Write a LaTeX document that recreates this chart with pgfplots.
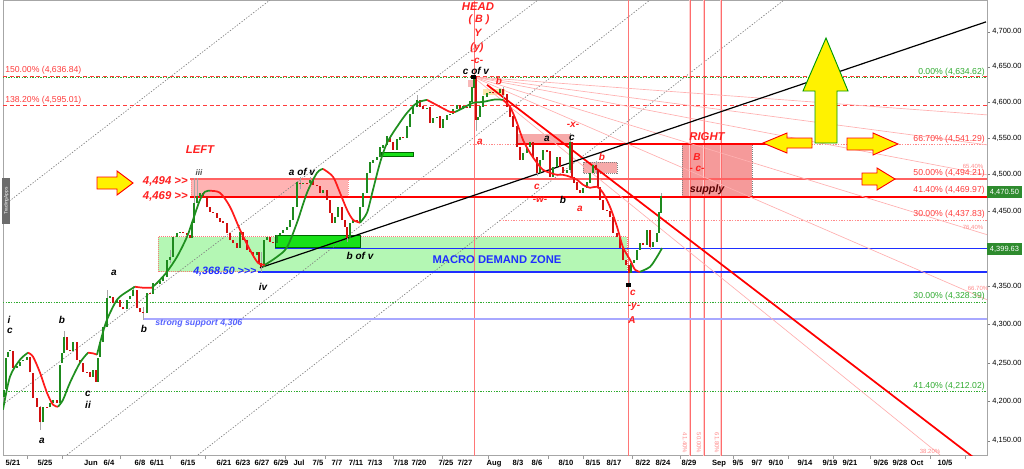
\documentclass[border=0pt]{standalone}
\usepackage{fontspec}
\setmainfont{Liberation Sans}
\usepackage{pgfplots}
\usepackage{pgfplotstable}
\pgfplotsset{compat=1.18}
\definecolor{cgreen}{HTML}{1E8A1E}
\definecolor{cred}{HTML}{D01010}
\definecolor{magreen}{HTML}{1F8F1F}
\definecolor{mared}{HTML}{FF1A1A}
\definecolor{fibred}{HTML}{FF3B3B}
\definecolor{fibgreen}{HTML}{2FAA2F}
\definecolor{zonegreen}{HTML}{B4F7B4}
\definecolor{pinkbox}{HTML}{FFB3B3}
\definecolor{supplybox}{HTML}{F59A9A}
\definecolor{bluel}{HTML}{1E2EFF}
\definecolor{lightblue}{HTML}{A8A8FF}
\definecolor{fanpink}{HTML}{FFB0B0}
\definecolor{labred}{HTML}{FF2020}
\definecolor{boxgreen}{HTML}{2E8B2E}
\definecolor{brightgreen}{HTML}{18E018}
\newcommand{\fs}[1]{\fontsize{#1}{#1}\selectfont}
\tikzset{
  wave/.style={font=\fs{7.5}\bfseries\itshape, inner sep=0pt},
  rwave/.style={wave, text=labred},
  fibr/.style={font=\fs{6.5}, text=fibred, inner sep=0pt},
  fibg/.style={font=\fs{6.5}, text=fibgreen, inner sep=0pt},
  tinyp/.style={font=\fs{4.5}, text=fibred!60, inner sep=0pt},
}
\pgfplotstableread{
x o c
4 4205 4215
6 4215 4257
8 4257 4264
10 4264 4266
13 4266 4243
17 4243 4245
20 4245 4251
23 4251 4253
27 4253 4257
30 4257 4237
33 4237 4204
37 4204 4193
40 4193 4173
43 4173 4193
47 4193 4192
50 4192 4198
53 4198 4202
57 4202 4198
60 4198 4249
62 4249 4262
64 4262 4283
67 4283 4266
70 4266 4264
73 4264 4277
77 4277 4253
80 4253 4249
83 4249 4238
87 4238 4237
90 4237 4231
93 4231 4240
96 4240 4225
98 4225 4257
100 4257 4277
103 4277 4296
107 4296 4334
110 4334 4336
113 4336 4328
117 4328 4332
120 4332 4322
123 4322 4319
127 4319 4332
130 4332 4336
133 4336 4345
137 4345 4321
140 4321 4315
143 4315 4314
147 4314 4341
150 4341 4339
153 4339 4354
157 4354 4352
160 4352 4356
163 4356 4362
167 4362 4385
170 4385 4389
173 4389 4415
177 4415 4421
180 4421 4422
183 4422 4421
187 4421 4418
190 4418 4414
192 4414 4434
194 4434 4461
197 4461 4470
200 4470 4475
203 4475 4470
207 4470 4455
210 4455 4449
213 4449 4448
217 4448 4441
220 4441 4436
223 4436 4434
227 4434 4421
230 4421 4411
233 4411 4407
237 4407 4401
240 4401 4422
243 4422 4411
247 4411 4398
250 4398 4395
253 4395 4391
257 4391 4395
259 4395 4381
261 4381 4375
264 4375 4411
267 4411 4415
270 4415 4409
273 4409 4407
277 4407 4418
280 4418 4421
283 4421 4425
287 4425 4429
290 4429 4438
293 4438 4456
297 4456 4489
300 4489 4487
303 4487 4489
307 4489 4488
310 4488 4493
313 4493 4486
317 4486 4484
320 4484 4475
323 4475 4479
327 4479 4465
330 4465 4448
332 4448 4434
335 4434 4442
338 4442 4455
342 4455 4438
345 4438 4429
347 4429 4414
350 4414 4434
353 4434 4438
357 4438 4436
360 4436 4456
363 4456 4475
367 4475 4502
370 4502 4516
373 4516 4520
377 4520 4524
380 4524 4537
383 4537 4541
387 4541 4552
390 4552 4545
393 4545 4534
397 4534 4548
400 4548 4552
403 4552 4550
407 4550 4566
410 4566 4583
413 4583 4594
417 4594 4603
420 4603 4594
423 4594 4590
427 4590 4592
430 4592 4571
433 4571 4578
437 4578 4580
440 4580 4564
443 4564 4576
447 4576 4582
450 4582 4584
453 4584 4590
457 4590 4596
460 4596 4590
463 4590 4594
467 4594 4592
470 4592 4601
472 4601 4620
474 4620 4634
476 4634 4576
478 4576 4580
480 4580 4594
483 4594 4608
487 4608 4613
490 4613 4615
493 4615 4614
497 4614 4613
500 4613 4618
503 4618 4611
507 4611 4594
510 4594 4580
513 4580 4566
517 4566 4538
520 4538 4520
523 4520 4530
527 4530 4538
530 4538 4544
533 4544 4524
537 4524 4502
540 4502 4520
543 4520 4534
547 4534 4531
550 4531 4497
553 4497 4510
557 4510 4524
560 4524 4510
563 4510 4502
567 4502 4506
570 4506 4544
572 4544 4497
574 4497 4489
577 4489 4479
580 4479 4475
583 4475 4482
587 4482 4489
590 4489 4502
593 4502 4513
596 4513 4506
598 4506 4483
600 4483 4465
603 4465 4452
607 4452 4450
610 4450 4442
613 4442 4421
617 4421 4415
620 4415 4401
623 4401 4384
626 4384 4378
629 4378 4367
631 4367 4381
634 4381 4385
637 4385 4398
640 4398 4407
643 4407 4405
647 4405 4425
650 4425 4402
653 4402 4409
657 4409 4421
659 4421 4448
661 4448 4470.5
}\candles
\pgfplotstableread{
x lo hi
40 4163 4195
64 4262 4292
107 4296 4346
133 4336 4350
143 4305 4322
170 4380 4398
194 4434 4494
197 4461 4494
261 4369 4395
300 4480 4496
310 4486 4497
347 4408 4429
417 4594 4610
474 4620 4638
476 4560 4634
503 4605 4621
537 4498 4524
570 4502 4556
596 4500 4518
629 4352 4378
650 4398 4425
661 4448 4474
}\wicks
\begin{document}
\begin{tikzpicture}
\useasboundingbox (-2.25pt,-9.75pt) rectangle (765.75pt,341.25pt);
\begin{axis}[
  at={(0pt,0pt)}, anchor=south west,
  width=738pt, height=341.25pt, scale only axis,
  xmin=3, xmax=987,
  y coord trafo/.code={\pgfmathparse{4400*ln(#1/4400)+4400}},
  y coord inv trafo/.code={\pgfmathparse{4400*exp((#1-4400)/4400)}},
  ymin=4131.9, ymax=4745.6,
  axis line style={draw=gray!70, line width=0.5pt},
  ytick pos=right, yticklabel pos=right,
  ytick={4150,4200,4250,4300,4350,4450,4500,4550,4600,4650,4700},
  yticklabels={{4,150.00},{4,200.00},{4,250.00},{4,300.00},{4,350.00},{4,450.00},{4,500.00},{4,550.00},{4,600.00},{4,650.00},{4,700.00}},
  tick align=outside, major tick length=2pt, minor tick length=3pt,
  y tick label style={font=\fs{5.6}, xshift=-1.5pt},
  xtick pos=bottom,
  xtick={13,45,91,109,140,157,188,224,243,262,281,299,318,337,356,375,401,419,446,465,494,518,537,566,593,614,643,663,689,719,738,757,776,805,830,850,881,900,917,945},
  xticklabels={5/21,5/25,Jun,6/4,6/8,6/11,6/15,6/21,6/23,6/27,6/29,Jul,7/5,7/7,7/11,7/13,7/18,7/20,7/25,7/27,Aug,8/3,8/6,8/10,8/15,8/17,8/22,8/24,8/29,Sep,9/5,9/7,9/10,9/14,9/19,9/21,9/26,9/28,Oct,10/5},
  x tick label style={font=\fs{5.7}\bfseries, yshift=1.5pt},
  major x tick style={draw=none},
  minor xtick={27,62,120,170,205,285,325,393,442,488,548,583,632,680,733,788,833,870,930,965},
  minor x tick style={draw=gray!80, line width=0.5pt},
  clip=true,
]
% zones
\addplot[fill=zonegreen, draw=fibred!70, densely dotted, line width=0.5pt] coordinates {(158,4368.7) (158,4415.4) (627,4415.4) (627,4368.7)} -- cycle;
\addplot[fill=pinkbox, draw=fibred!60, densely dotted, line width=0.5pt] coordinates {(191,4470) (191,4494) (348,4494) (348,4470)} -- cycle;
\addplot[fill=supplybox, draw=gray, densely dotted, line width=0.5pt] coordinates {(682,4469.5) (682,4541.8) (752,4541.8) (752,4469.5)} -- cycle;
\addplot[fill=supplybox!85, draw=none] coordinates {(518,4543.5) (518,4556.1) (570,4556.1) (570,4543.5)} -- cycle;
\addplot[fill=supplybox!85, draw=gray, densely dotted, line width=0.5pt] coordinates {(583,4502.3) (583,4517.4) (617,4517.4) (617,4502.3)} -- cycle;
\addplot[fill=supplybox!70, draw=none] coordinates {(468,4621.7) (468,4631.6) (475,4631.6) (475,4621.7)} -- cycle;
\addplot[fill=yellow!40!orange!30, draw=none] coordinates {(483,4610.5) (483,4619.0) (505,4619.0) (505,4610.5)} -- cycle;
\addplot[fill=brightgreen, draw=green!40!black, line width=0.4pt] coordinates {(275,4401.4) (275,4418.1) (360,4418.1) (360,4401.4)} -- cycle;
\addplot[fill=brightgreen, draw=green!40!black, line width=0.4pt] coordinates {(381,4525.6) (381,4531.1) (413,4531.1) (413,4525.6)} -- cycle;
% grey dotted channel lines
\addplot[gray, dash pattern=on 1pt off 1.2pt, line width=0.5pt] coordinates {(0,4453.8) (270,4745.6)};
\addplot[gray, dash pattern=on 1pt off 1.2pt, line width=0.5pt] coordinates {(0,4192.8) (538,4745.6)};
\addplot[gray, dash pattern=on 1pt off 1.2pt, line width=0.5pt] coordinates {(67,4131.9) (650,4745.6)};
\addplot[gray, dash pattern=on 1pt off 1.2pt, line width=0.5pt] coordinates {(198,4131.9) (784,4745.6)};
% vertical lines
\addplot[fibred!70, line width=0.7pt] coordinates {(474,4120) (474,4760)};
\addplot[fibred!70, line width=0.7pt] coordinates {(628,4120) (628,4760)};
\addplot[fibred!25, line width=1.6pt] coordinates {(690,4120) (690,4760)};
\addplot[fibred!25, line width=1.6pt] coordinates {(704,4120) (704,4760)};
\addplot[fibred!25, line width=1.6pt] coordinates {(721,4120) (721,4760)};
\addplot[fibred!75, line width=0.5pt] coordinates {(690,4120) (690,4760)};
\addplot[fibred!75, line width=0.5pt] coordinates {(704,4120) (704,4760)};
\addplot[fibred!75, line width=0.5pt] coordinates {(721,4120) (721,4760)};
% fib levels
\addplot[fibred, dash pattern=on 3pt off 2pt, line width=0.8pt] coordinates {(3,4636.84) (987,4636.84)};
\addplot[fibgreen, dash pattern=on 1pt off 1pt, line width=0.6pt] coordinates {(3,4634.62) (987,4634.62)};
\addplot[fibred, dash pattern=on 3pt off 2pt, line width=0.8pt] coordinates {(3,4595.01) (987,4595.01)};
\addplot[fibred!60, dash pattern=on 1pt off 1pt, line width=0.5pt] coordinates {(470,4541.29) (987,4541.29)};
\addplot[fibred!60, dash pattern=on 1pt off 1pt, line width=0.5pt] coordinates {(470,4494.21) (987,4494.21)};
\addplot[fibred!60, dash pattern=on 1pt off 1pt, line width=0.5pt] coordinates {(470,4469.97) (987,4469.97)};
\addplot[fibred!60, dash pattern=on 1pt off 1pt, line width=0.5pt] coordinates {(500,4437.83) (987,4437.83)};
\addplot[fibgreen, dash pattern=on 1pt off 1pt, line width=0.6pt] coordinates {(3,4328.39) (987,4328.39)};
\addplot[fibgreen, dash pattern=on 1pt off 1pt, line width=0.6pt] coordinates {(3,4212.02) (987,4212.02)};
% solid levels
\addplot[fibred!80, line width=1.1pt] coordinates {(190,4494) (987,4494)};
\addplot[red, line width=1.4pt] coordinates {(190,4469) (987,4469)};
\addplot[red, line width=1.8pt] coordinates {(518,4541.8) (768,4541.8)};
\addplot[bluel, line width=1.1pt] coordinates {(275,4399.63) (987,4399.63)};
\addplot[bluel, line width=1.5pt] coordinates {(258,4368.5) (987,4368.5)};
\addplot[lightblue, line width=1.1pt] coordinates {(143,4306) (987,4306)};
% fan lines
\addplot[fanpink, line width=0.5pt] coordinates {(473,4635.8) (987,4582.5)};
\addplot[fanpink, line width=0.5pt] coordinates {(473,4635.8) (987,4540.8)};
\addplot[fanpink, line width=0.5pt] coordinates {(473,4635.8) (987,4499.6)};
\addplot[fanpink, line width=0.5pt] coordinates {(473,4635.8) (987,4418.2)};
\addplot[fanpink, line width=0.5pt] coordinates {(473,4635.8) (987,4331.6)};
\addplot[fanpink, line width=0.5pt] coordinates {(473,4635.8) (940,4131.9)};
% trend lines
\addplot[red, line width=1.3pt] coordinates {(487,4624.6) (980,4122.4)};
\addplot[black, line width=0.9pt] coordinates {(260,4374.0) (986,4714.1)};
% wicks
\addplot[draw=none, forget plot,
  error bars/.cd, y dir=plus, y explicit, error mark=none,
  error bar style={draw=gray!70, line width=0.5pt, solid}]
  table[x=x, y=lo, y error expr=\thisrow{hi}-\thisrow{lo}] {\wicks};
% candles
\addplot[draw=none, forget plot, restrict expr to domain={\thisrow{c}-\thisrow{o}}{0:2000},
  error bars/.cd, y dir=plus, y explicit, error mark=none,
  error bar style={draw=cgreen, line width=1.5pt, solid}]
  table[x=x, y=o, y error expr=\thisrow{c}-\thisrow{o}] {\candles};
\addplot[draw=none, forget plot, restrict expr to domain={\thisrow{o}-\thisrow{c}}{0.001:2000},
  error bars/.cd, y dir=plus, y explicit, error mark=none,
  error bar style={draw=cred, line width=1.5pt, solid}]
  table[x=x, y=c, y error expr=\thisrow{o}-\thisrow{c}] {\candles};
% moving average (green rising, red falling)
\addplot[magreen, line width=1.3pt, smooth] coordinates {(3,4189) (10,4231.4) (20,4253.3) (28,4262.3)};
\addplot[mared, line width=1.3pt, smooth] coordinates {(28,4262.3) (33,4257.2) (40,4236.5) (47,4210.7) (53,4195.4) (58,4192.8)};
\addplot[magreen, line width=1.3pt, smooth] coordinates {(58,4192.8) (63,4201.7) (70,4223.6) (80,4249.4) (88,4262.3)};
\addplot[mared, line width=1.3pt, smooth] coordinates {(88,4262.3) (93,4261.5) (97,4259.8)};
\addplot[magreen, line width=1.3pt, smooth] coordinates {(97,4259.8) (102,4284.5) (107,4305.4) (117,4331.6) (127,4342.2) (135,4348.8)};
\addplot[mared, line width=1.3pt, smooth] coordinates {(135,4348.8) (143,4347.5) (152,4347.5)};
\addplot[magreen, line width=1.3pt, smooth] coordinates {(152,4347.5) (160,4358.1) (167,4368.7) (177,4388.6) (187,4415.4) (193,4438.4) (200,4465.4) (205,4476.4) (210,4477.7)};
\addplot[mared, line width=1.3pt, smooth] coordinates {(210,4477.7) (220,4475.0) (230,4455.9) (240,4424.9) (250,4397.9) (258,4380.7) (265,4378.0)};
\addplot[magreen, line width=1.3pt, smooth] coordinates {(265,4378.0) (277,4388.6) (287,4401.4) (297,4434.4) (307,4475.0) (317,4502.3) (323,4507.7)};
\addplot[mared, line width=1.3pt, smooth] coordinates {(323,4507.7) (333,4496.9) (340,4475.0) (347,4451.9) (353,4438.4) (360,4434.4)};
\addplot[magreen, line width=1.3pt, smooth] coordinates {(360,4434.4) (367,4447.9) (373,4479.1) (380,4516.0) (387,4543.5) (397,4565.8) (407,4585.3) (417,4599.2) (427,4603.4)};
\addplot[mared, line width=1.3pt, smooth] coordinates {(427,4603.4) (440,4593.7) (450,4586.7) (455,4586.5)};
\addplot[magreen, line width=1.3pt, smooth] coordinates {(455,4586.5) (463,4592) (473,4599.2) (483,4600.6) (495,4604) (503,4603.4)};
\addplot[mared, line width=1.3pt, smooth] coordinates {(503,4603.4) (510,4593.7) (517,4571.4) (523,4547.7) (530,4529.7) (537,4516.0) (543,4506.4) (550,4502.3) (557,4499.6) (563,4499.6) (570,4496.9) (577,4492.8) (583,4486.0) (590,4481.8) (597,4483.2) (603,4475.0) (610,4455.9) (617,4429.0) (623,4401.4) (630,4384.6) (635,4371.4) (640,4368.7)};
\addplot[magreen, line width=1.3pt, smooth] coordinates {(640,4368.7) (650,4375.4) (657,4388.6) (662,4400.1)};
% pivot markers
\addplot[only marks, mark=square*, mark size=1.4pt, black] coordinates {(473,4635.8) (628,4351.5)};
\end{axis}
\begin{axis}[
  at={(0pt,0pt)}, anchor=south west,
  width=738pt, height=341.25pt, scale only axis,
  xmin=3, xmax=987, ymin=0, ymax=455, y dir=reverse,
  hide axis, clip=false,
]
% arrows
\filldraw[fill=yellow, draw=red, line width=0.7pt] (axis cs:97,177) -- (axis cs:117,177) -- (axis cs:117,171) -- (axis cs:133,183) -- (axis cs:117,195) -- (axis cs:117,189) -- (axis cs:97,189) -- cycle;
\filldraw[fill=yellow, draw=green!60!black, line width=0.7pt] (axis cs:815,143) -- (axis cs:815,91) -- (axis cs:803,91) -- (axis cs:826,38) -- (axis cs:848,91) -- (axis cs:837,91) -- (axis cs:837,143) -- cycle;
\filldraw[fill=yellow, draw=red, line width=0.7pt] (axis cs:812,138) -- (axis cs:787,138) -- (axis cs:787,133) -- (axis cs:763,143) -- (axis cs:787,153) -- (axis cs:787,148) -- (axis cs:812,148) -- cycle;
\filldraw[fill=yellow, draw=red, line width=0.7pt] (axis cs:847,138) -- (axis cs:873,138) -- (axis cs:873,133) -- (axis cs:898,144) -- (axis cs:873,155) -- (axis cs:873,150) -- (axis cs:847,150) -- cycle;
\filldraw[fill=yellow, draw=red, line width=0.7pt] (axis cs:862,173) -- (axis cs:877,173) -- (axis cs:877,168) -- (axis cs:895,179) -- (axis cs:877,190) -- (axis cs:877,185) -- (axis cs:862,185) -- cycle;
% TradingApps tab
\node[fill=gray!85!black, minimum width=35pt, minimum height=6pt, inner sep=0pt, text=white, font=\fs{3.6}, rotate=90] at (axis cs:6.5,201) {TradingApps};
% black wave labels
\node[wave] at (axis cs:9,320) {i};
\node[wave] at (axis cs:10,331) {c};
\node[wave] at (axis cs:42,441) {a};
\node[wave] at (axis cs:62,320) {b};
\node[wave] at (axis cs:88,394) {c};
\node[wave] at (axis cs:88,405) {ii};
\node[wave] at (axis cs:114,273) {a};
\node[wave] at (axis cs:144,329) {b};
\node[wave, text=gray!60!black, font=\fs{6}\bfseries\itshape] at (axis cs:199,173) {iii};
\node[wave] at (axis cs:263,287) {iv};
\node[wave] at (axis cs:302,172) {a of v};
\node[wave] at (axis cs:360,256) {b of v};
\node[wave] at (axis cs:476,71) {c of v};
\node[wave] at (axis cs:547,139) {a};
\node[wave] at (axis cs:572,138) {c};
\node[wave] at (axis cs:563,200) {b};
% red labels
\node[rwave, font=\fs{8.5}\bfseries\itshape] at (axis cs:478,7) {HEAD};
\node[rwave, font=\fs{8}\bfseries\itshape] at (axis cs:479,20) {( B )};
\node[rwave, font=\fs{8}\bfseries\itshape] at (axis cs:478,33) {Y};
\node[rwave, font=\fs{8}\bfseries\itshape] at (axis cs:477,48) {(y)};
\node[rwave] at (axis cs:477,61) {-c-};
\node[rwave] at (axis cs:499,81) {b};
\node[rwave] at (axis cs:480,142) {a};
\node[rwave] at (axis cs:573,125) {-x-};
\node[rwave] at (axis cs:537,187) {c};
\node[rwave] at (axis cs:540,200) {-w-};
\node[rwave] at (axis cs:580,209) {a};
\node[rwave] at (axis cs:602,157) {b};
\node[rwave] at (axis cs:633,293) {c};
\node[rwave] at (axis cs:634,307) {-y-};
\node[rwave] at (axis cs:632,320) {A};
\node[rwave, font=\fs{8.5}\bfseries\itshape] at (axis cs:200,150) {LEFT};
\node[rwave, font=\fs{8.5}\bfseries\itshape] at (axis cs:707,137) {RIGHT};
\node[rwave] at (axis cs:697,157) {B};
\node[rwave] at (axis cs:697,169) {- c-};
\node[wave, text=black!65!red, font=\fs{8}\bfseries\itshape] at (axis cs:707,190) {supply};
\node[rwave, font=\fs{8.5}\bfseries\itshape, anchor=east] at (axis cs:188,181) {4,494 >{}>};
\node[rwave, font=\fs{8.5}\bfseries\itshape, anchor=east] at (axis cs:188,196) {4,469 >{}>};
\node[wave, text=bluel, font=\fs{8}\bfseries\itshape, anchor=west] at (axis cs:193,272) {4,368.50 >{}>{}>};
\node[wave, text=bluel!75, font=\fs{6.6}\bfseries\itshape, anchor=west] at (axis cs:155,323) {strong support 4,306};
\node[text=bluel, font=\fs{8.4}\bfseries, inner sep=0pt] at (axis cs:497,260) {MACRO DEMAND ZONE};
% fib labels
\node[fibr, anchor=west] at (axis cs:5,70) {150.00\% (4,636.84)};
\node[fibr, anchor=west] at (axis cs:5,100) {138.20\% (4,595.01)};
\node[fibg, anchor=east] at (axis cs:985,72) {0.00\% (4,634.62)};
\node[fibr, anchor=east] at (axis cs:985,139) {66.70\% (4,541.29)};
\node[fibr, anchor=east] at (axis cs:985,173) {50.00\% (4,494.21)};
\node[fibr, anchor=east] at (axis cs:985,190.5) {41.40\% (4,469.97)};
\node[fibr, anchor=east] at (axis cs:985,214) {30.00\% (4,437.83)};
\node[fibg, anchor=east] at (axis cs:985,296.5) {30.00\% (4,328.39)};
\node[fibg, anchor=east] at (axis cs:985,386) {41.40\% (4,212.02)};
\node[tinyp] at (axis cs:973,166) {65.40\%};
\node[tinyp] at (axis cs:973,227) {76.40\%};
\node[tinyp] at (axis cs:978,288.5) {66.70\%};
\node[tinyp] at (axis cs:930,451) {38.20\%};
\node[tinyp, rotate=-90] at (axis cs:685,443) {41.40\%};
\node[tinyp, rotate=-90] at (axis cs:699,443) {50.00\%};
\node[tinyp, rotate=-90] at (axis cs:717,443) {61.80\%};
% right value boxes
\node[fill=boxgreen, text=white, font=\fs{5.6}, minimum width=26pt, minimum height=8.5pt, inner sep=0pt] at (axis cs:1004.5,192) {4,470.50};
\node[fill=boxgreen, text=white, font=\fs{5.6}, minimum width=26pt, minimum height=8.5pt, inner sep=0pt] at (axis cs:1004.5,249) {4,399.63};
\end{axis}
\end{tikzpicture}
\end{document}
